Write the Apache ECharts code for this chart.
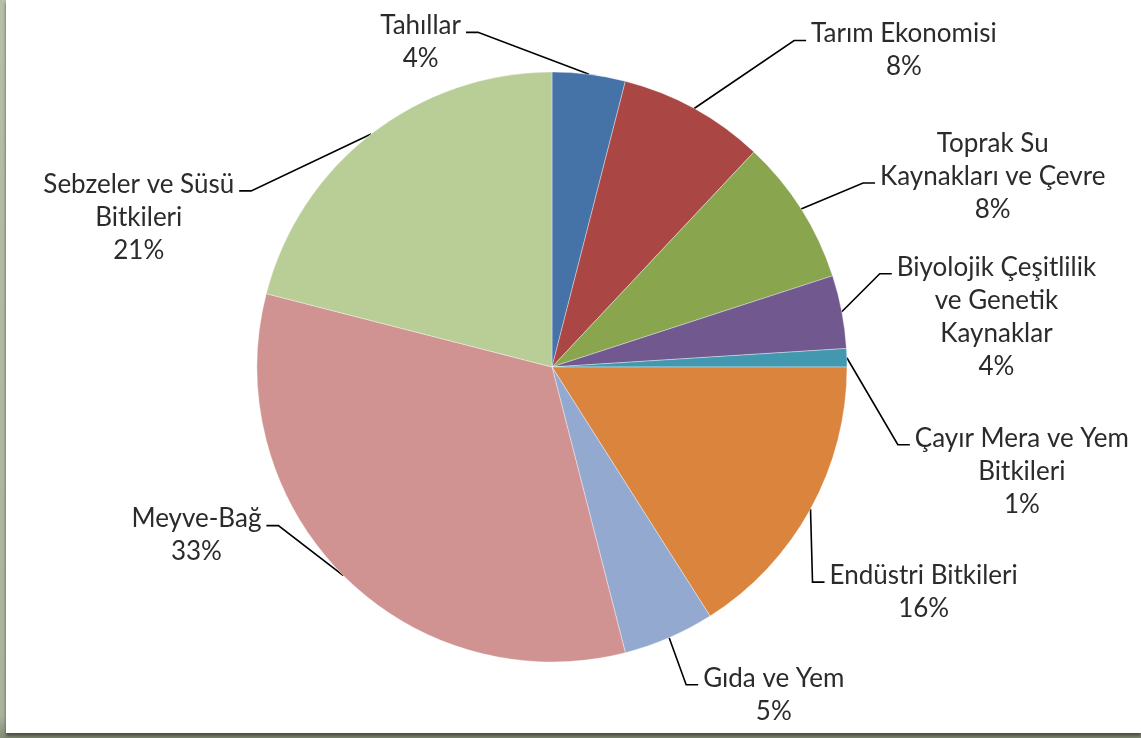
<!DOCTYPE html>
<html>
<head>
<meta charset="utf-8">
<script src="https://cdn.jsdelivr.net/npm/echarts@6/dist/echarts.min.js"></script>
<style>
  html, body { margin: 0; padding: 0; width: 1141px; height: 738px; overflow: hidden;
    background: linear-gradient(180deg, #b6bfa8 0%, #aab39b 97%, #838b76 100%); }
  #panel { position: absolute; left: 6px; top: 0; width: 1135px; height: 733px; background: #fff;
    box-shadow: 0 3px 3px rgba(50,55,40,0.75); }
  #chart { width: 1135px; height: 733px; }
</style>
</head>
<body>
<div id="panel"><div id="chart"></div></div>
<script>
// ---- data ----
const categories = [
  'Tahıllar',
  'Tarım Ekonomisi',
  'Toprak Su\nKaynakları ve Çevre',
  'Biyolojik Çeşitlilik\nve Genetik\nKaynaklar',
  'Çayır Mera ve Yem\nBitkileri',
  'Endüstri Bitkileri',
  'Gıda ve Yem',
  'Meyve-Bağ',
  'Sebzeler ve Süsü\nBitkileri'
];
const shares = [4, 8, 8, 4, 1, 16, 5, 33, 21];

// ---- styles / layout (not data) ----
const colors = ['#4572A7', '#AA4643', '#89A54E', '#71588F', '#4198AF', '#DB843D', '#93A9CF', '#D19392', '#B9CD96'];
// leader line elbow offset from the slice edge point, side of label, which text line the leader meets
const leader = [
  { dx: -111, dy: -42, side: -1, line: 0 },
  { dx: 100, dy: -68, side: 1, line: 0 },
  { dx: 62, dy: -26, side: 1, line: 1 },
  { dx: 38, dy: -38, side: 1, line: 0 },
  { dx: 51, dy: 87, side: 1, line: 0 },
  { dx: 2, dy: 73, side: 1, line: 0 },
  { dx: 17, dy: 47, side: 1, line: 0 },
  { dx: -65, dy: -50, side: -1, line: 0 },
  { dx: -120, dy: 57, side: -1, line: 0 }
];
const FONT_SIZE = 26, LINE_H = 33, SEG = 12, GAP = 5;

const chart = echarts.init(document.getElementById('chart'), null, { renderer: 'canvas' });
chart.setOption({
  animation: false,
  color: colors,
  series: [{
    type: 'pie',
    center: [546, 367],
    radius: 295,
    startAngle: 90,
    clockwise: true,
    avoidLabelOverlap: false,
    itemStyle: { borderColor: 'rgba(255,255,255,0.6)', borderWidth: 0.6 },
    label: {
      show: true,
      position: 'outside',
      fontFamily: 'Lato, "Open Sans", sans-serif',
      fontSize: FONT_SIZE,
      lineHeight: LINE_H,
      color: '#2b2b2b',
      align: 'center',
      formatter: p => p.name + '\n' + p.value + '%'
    },
    labelLine: { show: true, length: 20, length2: 12, lineStyle: { color: '#000', width: 1.6 } },
    emphasis: { disabled: true },
    data: categories.map((c, i) => ({ name: c, value: shares[i] })),
    labelLayout: function (params) {
      const cfg = leader[params.dataIndex];
      const start = params.labelLinePoints[0];
      const elbow = [start[0] + cfg.dx, start[1] + cfg.dy];
      const end = [elbow[0] + cfg.side * SEG, elbow[1]];
      const w = params.labelRect.width;
      return {
        x: end[0] + cfg.side * (GAP + w / 2),
        y: end[1] - 23 - cfg.line * LINE_H,
        align: 'center',
        verticalAlign: 'top',
        hideOverlap: false,
        labelLinePoints: [start, elbow, end]
      };
    }
  }]
});
</script>
</body>
</html>
